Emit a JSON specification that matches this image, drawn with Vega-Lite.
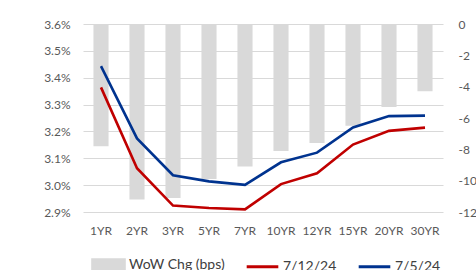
{
  "$schema": "https://vega.github.io/schema/vega-lite/v6.json",
  "width": 360,
  "height": 188,
  "autosize": {"type": "none"},
  "padding": {"left": 83, "top": 24, "right": 33, "bottom": 58},
  "background": "white",
  "config": {
    "view": {"stroke": null},
    "font": "Lato",
    "axis": {"labelFont": "Lato", "labelColor": "#595959", "labelFontSize": 12, "domain": false, "ticks": false, "title": null, "gridColor": "#d9d9d9", "gridWidth": 1},
    "legend": {"labelFont": "Lato"}
  },
  "data": {
    "values": [
      {"tenor": "1YR", "chg": -7.8, "y0712": 0.03364, "y0705": 0.03443},
      {"tenor": "2YR", "chg": -11.2, "y0712": 0.03063, "y0705": 0.03174},
      {"tenor": "3YR", "chg": -11.1, "y0712": 0.02924, "y0705": 0.03037},
      {"tenor": "5YR", "chg": -9.9, "y0712": 0.02915, "y0705": 0.03014},
      {"tenor": "7YR", "chg": -9.1, "y0712": 0.02910, "y0705": 0.03001},
      {"tenor": "10YR", "chg": -8.1, "y0712": 0.03004, "y0705": 0.03085},
      {"tenor": "12YR", "chg": -7.6, "y0712": 0.03044, "y0705": 0.03121},
      {"tenor": "15YR", "chg": -6.5, "y0712": 0.03151, "y0705": 0.03215},
      {"tenor": "20YR", "chg": -5.3, "y0712": 0.03202, "y0705": 0.03257},
      {"tenor": "30YR", "chg": -4.3, "y0712": 0.03214, "y0705": 0.03259}
    ]
  },
  "encoding": {
    "x": {"field": "tenor", "type": "nominal", "sort": null,
      "scale": {"paddingInner": 0.58, "paddingOuter": 0.29},
      "axis": {"labelAngle": 0, "labelPadding": 13, "grid": false}}
  },
  "layer": [
    {
      "transform": [{"calculate": "'WoW Chg (bps)'", "as": "series"}],
      "mark": {"type": "bar", "color": "#d9d9d9"},
      "encoding": {
        "y": {"field": "chg", "type": "quantitative",
          "scale": {"domain": [-12, 0], "nice": false},
          "axis": {"orient": "right", "values": [0, -2, -4, -6, -8, -10, -12], "grid": false, "labelPadding": 15, "labelExpr": "'' + datum.value"}},
        "color": {"field": "series", "type": "nominal"}
      }
    },
    {
      "transform": [
        {"fold": ["y0712", "y0705"], "as": ["key", "yield"]},
        {"calculate": "datum.key === 'y0712' ? '7/12/24' : '7/5/24'", "as": "series"}
      ],
      "mark": {"type": "line", "strokeWidth": 2.6},
      "encoding": {
        "x": {"field": "tenor", "type": "nominal", "sort": null, "bandPosition": 0.5},
        "y": {"field": "yield", "type": "quantitative",
          "scale": {"domain": [0.029, 0.036], "nice": false, "zero": false},
          "axis": {"orient": "left", "format": ".1%", "values": [0.029, 0.030, 0.031, 0.032, 0.033, 0.034, 0.035, 0.036], "grid": true, "labelPadding": 13}},
        "color": {"field": "series", "type": "nominal",
          "scale": {"domain": ["WoW Chg (bps)", "7/12/24", "7/5/24"], "range": ["#d9d9d9", "#c00000", "#00338f"]},
          "legend": {
            "orient": "none", "legendX": 8, "legendY": 223, "direction": "horizontal", "title": null,
            "symbolSize": 1000, "symbolStrokeWidth": 3, "labelFontSize": 14, "labelColor": "#404040",
            "labelOffset": 3, "columnPadding": 15,
            "encode": {"symbols": {"update": {
              "shape": {"signal": "datum.value === 'WoW Chg (bps)' ? 'M-1,-0.32H1V0.32H-1Z' : 'stroke'"},
              "fill": {"signal": "datum.value === 'WoW Chg (bps)' ? '#d9d9d9' : 'transparent'"},
              "stroke": {"signal": "datum.value === 'WoW Chg (bps)' ? 'transparent' : (datum.value === '7/12/24' ? '#c00000' : '#00338f')"},
              "strokeWidth": {"value": 3},
              "opacity": {"value": 1}
            }}}
          }}
      }
    }
  ],
  "resolve": {"scale": {"y": "independent"}}
}
